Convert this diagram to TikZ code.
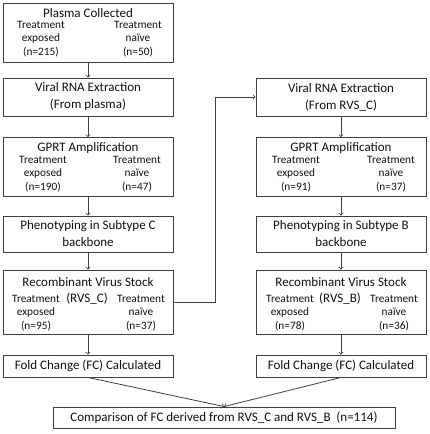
\documentclass[tikz,border=0pt]{standalone}
\usepackage{fontspec}
\setmainfont{Carlito}
\usetikzlibrary{positioning}
\definecolor{linegray}{HTML}{404040}
\definecolor{textgray}{HTML}{111111}
\begin{document}
\begin{tikzpicture}[x=1pt,y=-1pt,
  box/.style={draw=linegray,line width=0.9pt,fill=white,minimum width=170pt,
    inner sep=0pt,align=center,text=textgray,font=\fontsize{13}{17}\selectfont},
  title/.style={inner sep=0pt,text=textgray,font=\fontsize{13}{15}\selectfont},
  sub/.style={inner sep=0pt,align=center,text=textgray,font=\fontsize{11.3}{13.5}\selectfont},
  flow/.style={draw=linegray,line width=0.8pt,->,>=to}]
  \useasboundingbox (0,0) rectangle (430,434);
  % left column
  \node[box,minimum height=59pt] (plasma) at (88,32.5) {};
  \node[title] (plasmat) at (88,13) {Plasma Collected};
  \node[sub] (plasmae) at (41,39) {Treatment\\exposed\\(n=215)};
  \node[sub] (plasman) at (138,39) {Treatment\\naïve\\(n=50)};
  \node[box,minimum height=38pt] (viralL) at (88,97) {Viral RNA Extraction\\(From plasma)};
  \node[box,minimum height=59pt] (gprtL) at (88,167) {};
  \node[title] (gprtLt) at (88,148) {GPRT Amplification};
  \node[sub] (gprtLe) at (43,174) {Treatment\\exposed\\(n=190)};
  \node[sub] (gprtLn) at (137,174) {Treatment\\naïve\\(n=47)};
  \node[box,minimum height=36pt] (phenoL) at (88,234) {Phenotyping in Subtype C\\backbone};
  \node[box,minimum height=64pt] (recL) at (88,302) {};
  \node[title] (recLt) at (88,282) {Recombinant Virus Stock};
  \node[title] (recLr) at (87,298.5) {(RVS\_C)};
  \node[sub] (recLe) at (36,313) {Treatment\\exposed\\(n=95)};
  \node[sub] (recLn) at (141,313) {Treatment\\naïve\\(n=37)};
  \node[box,minimum height=22pt] (foldL) at (88,366) {Fold Change (FC) Calculated};
  % right column
  \node[box,minimum height=38pt] (viralR) at (341,97) {Viral RNA Extraction\\(From RVS\_C)};
  \node[box,minimum height=59pt] (gprtR) at (341,167) {};
  \node[title] (gprtRt) at (341,148) {GPRT Amplification};
  \node[sub] (gprtRe) at (296,174) {Treatment\\exposed\\(n=91)};
  \node[sub] (gprtRn) at (391,174) {Treatment\\naïve\\(n=37)};
  \node[box,minimum height=36pt] (phenoR) at (341,234) {Phenotyping in Subtype B\\backbone};
  \node[box,minimum height=64pt] (recR) at (341,302) {};
  \node[title] (recRt) at (341,282) {Recombinant Virus Stock};
  \node[title] (recRr) at (340,298.5) {(RVS\_B)};
  \node[sub] (recRe) at (290,313) {Treatment\\exposed\\(n=78)};
  \node[sub] (recRn) at (394,313) {Treatment\\naïve\\(n=36)};
  \node[box,minimum height=22pt] (foldR) at (341,366) {Fold Change (FC) Calculated};
  \node[box,minimum width=342pt,minimum height=21pt] (comp) at (224,417.5)
    {Comparison of FC derived from RVS\_C and RVS\_B\ \ (n=114)};
  % connectors
  \draw[flow] (plasma) -- (viralL);
  \draw[flow] (viralL) -- (gprtL);
  \draw[flow] (gprtL) -- (phenoL);
  \draw[flow] (phenoL) -- (recL);
  \draw[flow] (recL) -- (foldL);
  \draw[flow] (recL.east) -- ++(42,0) |- (viralR.west);
  \draw[flow] (viralR) -- (gprtR);
  \draw[flow] (gprtR) -- (phenoR);
  \draw[flow] (phenoR) -- (recR);
  \draw[flow] (recR) -- (foldR);
  \draw[flow] (foldL.south) -- (comp.north);
  \draw[flow] (foldR.south) -- (comp.north);
\end{tikzpicture}
\end{document}
